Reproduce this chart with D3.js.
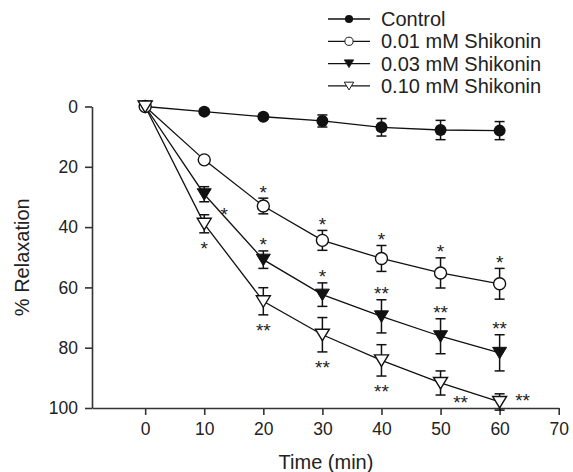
<!DOCTYPE html>
<html>
<head>
<meta charset="utf-8">
<script src="https://cdn.jsdelivr.net/npm/d3@7"></script>
<style>
  body { margin: 0; background: #fff; }
  svg { display: block; font-family: "Liberation Sans", Arial, sans-serif; }
</style>
</head>
<body>
<div id="chart"></div>
<script>
// données
const times = [0, 10, 20, 30, 40, 50, 60];
const seriesNames = ["Control", "0.01 mM Shikonin", "0.03 mM Shikonin", "0.10 mM Shikonin"];
const controlMean = [0, 1.7, 3.4, 4.8, 6.9, 7.8, 8.0];
const controlErr = [0, 0.8, 0.8, 2.0, 2.9, 3.2, 3.0];
const shk001Mean = [0, 17.7, 33.0, 44.4, 50.4, 55.2, 58.8];
const shk001Err = [0, 1.0, 2.6, 3.3, 4.3, 5.0, 5.1];
const shk003Mean = [0, 29.1, 50.8, 62.4, 69.6, 76.2, 81.7];
const shk003Err = [0, 2.5, 2.9, 3.9, 5.5, 5.8, 6.0];
const shk010Mean = [0, 38.9, 64.6, 75.7, 84.2, 91.7, 98.0];
const shk010Err = [0, 3.0, 4.5, 5.7, 5.2, 4.0, 2.7];
const xTicks = [0, 10, 20, 30, 40, 50, 60, 70];
const yTicks = [0, 20, 40, 60, 80, 100];

// astérisques de significativité
const signif = [
  { s: 1, t: 20, label: "*", place: "above" },
  { s: 1, t: 30, label: "*", place: "above" },
  { s: 1, t: 40, label: "*", place: "above" },
  { s: 1, t: 50, label: "*", place: "above" },
  { s: 1, t: 60, label: "*", place: "above" },
  { s: 2, t: 10, label: "*", place: "lowerRight" },
  { s: 2, t: 20, label: "*", place: "above" },
  { s: 2, t: 30, label: "*", place: "above" },
  { s: 2, t: 40, label: "**", place: "above" },
  { s: 2, t: 50, label: "**", place: "above" },
  { s: 2, t: 60, label: "**", place: "above" },
  { s: 3, t: 10, label: "*", place: "below" },
  { s: 3, t: 20, label: "**", place: "below" },
  { s: 3, t: 30, label: "**", place: "below" },
  { s: 3, t: 40, label: "**", place: "below" },
  { s: 3, t: 50, label: "**", place: "lowerRight" },
  { s: 3, t: 60, label: "**", place: "right" }
];

const means = [controlMean, shk001Mean, shk003Mean, shk010Mean];
const errs = [controlErr, shk001Err, shk003Err, shk010Err];
const series = seriesNames.map((name, i) => ({
  name, i,
  pts: times.map((t, k) => ({ t, v: means[i][k], e: errs[i][k] }))
}));

const width = 573, height = 472;
const svg = d3.select("#chart").append("svg")
  .attr("width", width).attr("height", height);

const x = d3.scaleLinear().domain([-9, 70]).range([92, 558.7]);
const y = d3.scaleLinear().domain([0, 100]).range([106.5, 408]);
const axisColor = "#333";

// axe Y
const yAxis = svg.append("g")
  .attr("transform", `translate(${x(-9)},0)`)
  .call(d3.axisLeft(y).tickValues(yTicks).tickSize(7).tickPadding(7).tickSizeOuter(0));
// axe X
const xAxis = svg.append("g")
  .attr("transform", `translate(0,${y(100)})`)
  .call(d3.axisBottom(x).tickValues(xTicks).tickSize(7).tickPadding(8).tickSizeOuter(0));
[xAxis, yAxis].forEach(g => {
  g.select(".domain").attr("stroke", axisColor).attr("stroke-width", 1.6);
  g.selectAll(".tick line").attr("stroke", axisColor).attr("stroke-width", 1.6);
  g.selectAll(".tick text").attr("fill", "#222").style("font-size", "17.5px")
    .style("font-family", "Liberation Sans, Arial, sans-serif");
});

svg.append("text")
  .attr("transform", `translate(24,${(y(0) + y(100)) / 2}) rotate(-90)`)
  .attr("text-anchor", "middle").attr("dominant-baseline", "middle")
  .style("font-size", "20px").attr("fill", "#222")
  .text("% Relaxation");
svg.append("text")
  .attr("x", 326).attr("y", 469)
  .attr("text-anchor", "middle")
  .style("font-size", "20px").attr("fill", "#222")
  .text("Time (min)");

// marqueurs
const tri = "M-7,-5.5L7,-5.5L0,6Z";
function drawMarker(g, i) {
  if (i === 0) g.append("circle").attr("r", 6).attr("fill", "#111");
  else if (i === 1) g.append("circle").attr("r", 6).attr("fill", "#fff").attr("stroke", "#111").attr("stroke-width", 1.4);
  else if (i === 2) g.append("path").attr("d", tri).attr("fill", "#111").attr("stroke", "#111").attr("stroke-width", 1);
  else g.append("path").attr("d", tri).attr("fill", "#fff").attr("stroke", "#111").attr("stroke-width", 1.4);
}

const line = d3.line().x(d => x(d.t)).y(d => y(d.v));
const capW = 5;

series.forEach(s => {
  svg.append("path").datum(s.pts)
    .attr("d", line).attr("fill", "none").attr("stroke", "#111").attr("stroke-width", 1.3);
});
series.forEach(s => {
  const eb = svg.append("g").selectAll("g").data(s.pts.filter(d => d.e > 0)).enter().append("g")
    .attr("stroke", "#111").attr("stroke-width", 1.5);
  eb.append("line").attr("x1", d => x(d.t)).attr("x2", d => x(d.t))
    .attr("y1", d => y(d.v - d.e)).attr("y2", d => y(d.v + d.e));
  eb.append("line").attr("x1", d => x(d.t) - capW).attr("x2", d => x(d.t) + capW)
    .attr("y1", d => y(d.v - d.e)).attr("y2", d => y(d.v - d.e));
  eb.append("line").attr("x1", d => x(d.t) - capW).attr("x2", d => x(d.t) + capW)
    .attr("y1", d => y(d.v + d.e)).attr("y2", d => y(d.v + d.e));
});
series.forEach(s => {
  svg.append("g").selectAll("g").data(s.pts).enter().append("g")
    .attr("transform", d => `translate(${x(d.t)},${y(d.v)})`)
    .each(function () { drawMarker(d3.select(this), s.i); });
});

// astérisques
const fs = 19;
svg.append("g").selectAll("text").data(signif).enter().append("text")
  .attr("text-anchor", "middle")
  .style("font-size", fs + "px").attr("fill", "#222")
  .each(function (a) {
    const p = series[a.s].pts.find(d => d.t === a.t);
    let cx = x(p.t), cy;
    if (a.place === "above") cy = y(p.v - p.e) - 10;
    else if (a.place === "below") cy = y(p.v + p.e) + 12;
    else if (a.place === "lowerRight") { cx += 20; cy = y(p.v) + 16; }
    else { cx += 23; cy = y(p.v) - 5; }
    d3.select(this).attr("x", cx).attr("y", cy + fs * 0.55).text(a.label);
  });

// légende
const legend = svg.append("g").attr("transform", "translate(328,19)");
const rows = legend.selectAll("g").data(series).enter().append("g")
  .attr("transform", (d, i) => `translate(0,${i * 22.3})`);
rows.append("line").attr("x1", 0).attr("x2", 42).attr("stroke", "#111").attr("stroke-width", 1.3);
rows.append("g").attr("transform", "translate(21,0) scale(0.68)")
  .each(function (d) { drawMarker(d3.select(this), d.i); });
rows.append("text").attr("x", 53).attr("dy", "0.35em")
  .style("font-size", "20px").attr("fill", "#222").text(d => d.name);
</script>
</body>
</html>
